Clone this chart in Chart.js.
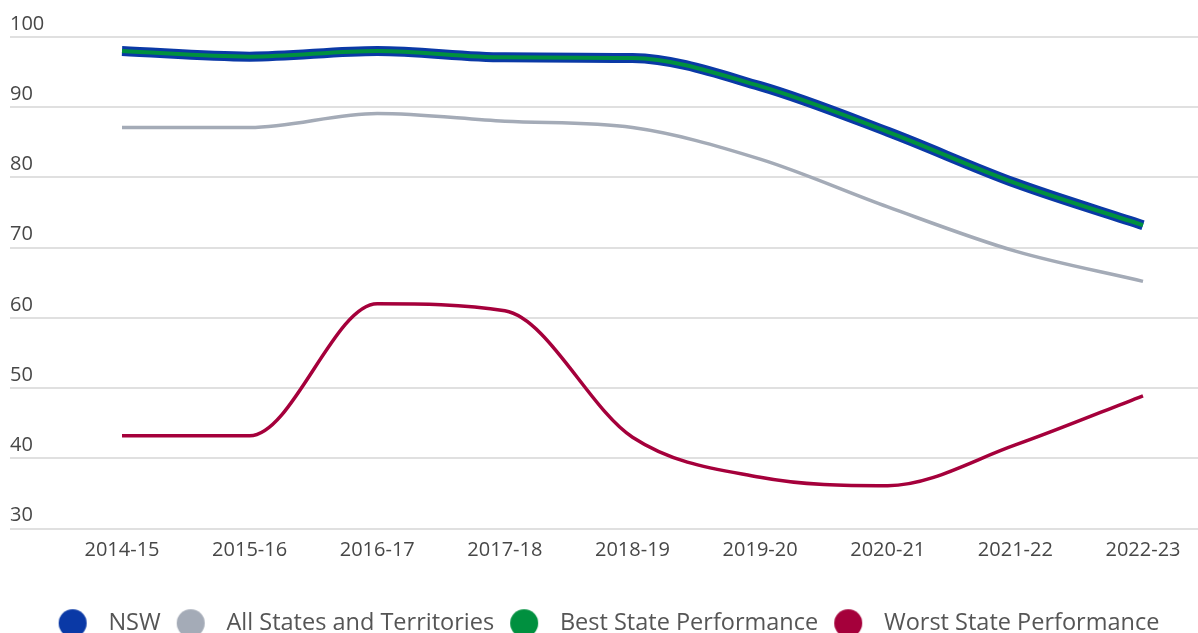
<!DOCTYPE html>
<html>
<head>
<meta charset="utf-8">
<script src="https://cdn.jsdelivr.net/npm/chart.js@4/dist/chart.umd.min.js"></script>
<style>
    html, body { margin: 0; padding: 0; background: #ffffff; }
    #wrap { width: 1198px; height: 633px; }
</style>
</head>
<body>
<div id="wrap"><canvas id="chart"></canvas></div>
<script>
// Data
const years = ['2014-15', '2015-16', '2016-17', '2017-18', '2018-19', '2019-20', '2020-21', '2021-22', '2022-23'];
const nswValues = [98.0, 97.2, 98.0, 97.1, 97.0, 93.0, 86.5, 79.2, 73.2];
const allStatesValues = [87.1, 87.1, 89.1, 88.0, 87.1, 82.6, 75.8, 69.5, 65.2];
const bestStateValues = [98.0, 97.2, 98.0, 97.1, 97.0, 93.0, 86.5, 79.2, 73.2];
const worstStateValues = [43.2, 43.2, 62.0, 61.0, 43.0, 37.3, 36.1, 41.9, 48.9];
const yTicks = [30, 40, 50, 60, 70, 80, 90, 100];

// Colours
const colors = {
    nsw: '#0a39a6',
    all: '#a4abb7',
    best: '#00903f',
    worst: '#a5003b',
    grid: '#e0e0e0',
    tick: '#474747',
    legend: '#555555'
};

const FONT = 'Open Sans';

// round legend markers, drawn as small canvases so the gap to the text can be wider
function makeDot(color) {
    const c = document.createElement('canvas');
    c.width = 30;
    c.height = 30;
    const g = c.getContext('2d');
    g.fillStyle = color;
    g.beginPath();
    g.arc(15, 15, 14, 0, Math.PI * 2);
    g.fill();
    return c;
}

function toPoints(values) {
    return values.map((v, i) => ({ x: i, y: v }));
}

const seriesColors = [colors.nsw, colors.all, colors.best, colors.worst];
const dots = seriesColors.map(makeDot);

new Chart(document.getElementById('chart'), {
    type: 'line',
    data: {
        datasets: [{
            label: 'NSW',
            data: toPoints(nswValues),
            borderColor: colors.nsw,
            backgroundColor: colors.nsw,
            borderWidth: 10,
            order: 1
        }, {
            label: 'All States and Territories',
            data: toPoints(allStatesValues),
            borderColor: colors.all,
            backgroundColor: colors.all,
            borderWidth: 3.5,
            order: 2
        }, {
            label: 'Best State Performance',
            data: toPoints(bestStateValues),
            borderColor: colors.best,
            backgroundColor: colors.best,
            borderWidth: 4,
            order: 0
        }, {
            label: 'Worst State Performance',
            data: toPoints(worstStateValues),
            borderColor: colors.worst,
            backgroundColor: colors.worst,
            borderWidth: 3.5,
            order: 3
        }]
    },
    options: {
        responsive: true,
        maintainAspectRatio: false,
        animation: false,
        layout: {
            padding: { top: 37, left: 10, right: 0, bottom: -12 }
        },
        elements: {
            point: { radius: 0, hoverRadius: 0 },
            line: { cubicInterpolationMode: 'monotone', fill: false }
        },
        scales: {
            x: {
                type: 'linear',
                min: -0.8776,
                max: 8.431,
                grid: { display: false, drawTicks: false },
                border: { display: false },
                afterBuildTicks: (scale) => {
                    scale.ticks = years.map((_, i) => ({ value: i }));
                },
                ticks: {
                    padding: 10,
                    color: colors.tick,
                    font: { family: FONT, size: 20 },
                    maxRotation: 0,
                    autoSkip: false,
                    callback: (value) => years[value]
                },
                title: {
                    display: true,
                    text: '',
                    font: { size: 10 },
                    padding: { top: 0, bottom: 21 }
                }
            },
            y: {
                min: 30,
                max: 100,
                afterBuildTicks: (scale) => {
                    scale.ticks = yTicks.map(v => ({ value: v }));
                },
                grid: { color: colors.grid, lineWidth: 2, drawTicks: false },
                border: { display: false },
                ticks: {
                    mirror: true,
                    padding: 0,
                    labelOffset: -13,
                    color: colors.tick,
                    font: { family: FONT, size: 20 }
                }
            }
        },
        plugins: {
            tooltip: { enabled: false },
            legend: {
                position: 'bottom',
                labels: {
                    usePointStyle: true,
                    pointStyleWidth: 48,
                    padding: 6,
                    color: colors.legend,
                    font: { family: FONT, size: 23.5 },
                    sort: (a, b) => a.datasetIndex - b.datasetIndex,
                    generateLabels: (chart) => {
                        const items = Chart.defaults.plugins.legend.labels.generateLabels(chart);
                        return items.map(item => ({ ...item, pointStyle: dots[item.datasetIndex] }));
                    }
                }
            }
        }
    }
});
</script>
</body>
</html>
